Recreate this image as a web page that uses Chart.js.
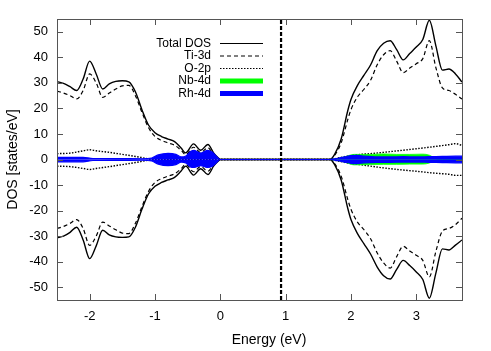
<!DOCTYPE html>
<html>
<head>
<meta charset="utf-8">
<style>
  html, body { margin: 0; padding: 0; background: #fff; }
  #wrap { width: 491px; height: 351px; }
</style>
</head>
<body>
<div id="wrap"><canvas id="c" width="491" height="351"></canvas></div>
<script src="https://cdn.jsdelivr.net/npm/chart.js@4.4.0/dist/chart.umd.min.js"></script>
<script>
// energies (eV) for total DOS and Ti-3d
const bandE = [-2.5, -2.4, -2.3, -2.2, -2.1, -2.0, -1.9, -1.8, -1.7, -1.6, -1.5, -1.4, -1.3, -1.2, -1.1, -1.0,
  -0.9, -0.8, -0.7, -0.6, -0.53, -0.41, -0.3, -0.19, -0.1, -0.03, 0,
  1.68, 1.75, 1.85, 1.95, 2.0, 2.1, 2.2, 2.3, 2.4, 2.5, 2.6, 2.7, 2.8, 2.9, 3.0, 3.1, 3.2, 3.3, 3.4, 3.5, 3.6, 3.7];

const totalUp = [30.5, 29.8, 28.5, 27.0, 31.5, 38.5, 33.5, 27.6, 29.6, 30.6, 30.8, 30.4, 26.5, 19.5, 13.5, 10.5,
  9.0, 8.0, 7.0, 4.5, 2.6, 6.1, 3.6, 5.9, 2.5, 0.6, 0,
  0, 2.0, 8.0, 19.0, 23.5, 29.0, 33.0, 37.0, 42.5, 45.5, 46.5, 43.0, 39.0, 41.5, 44.0, 47.0, 54.5, 44.5, 35.0, 35.4, 33.5, 30.3];
const totalDown = [-30.6, -30.0, -28.5, -26.5, -31.5, -38.8, -33.8, -27.7, -29.5, -30.3, -30.5, -30.3, -26.5, -19.5, -13.5, -10.5,
  -9.0, -8.0, -7.0, -4.5, -2.6, -6.1, -3.6, -5.9, -2.5, -0.6, 0,
  0, -2.0, -8.0, -19.0, -23.5, -29.0, -33.0, -37.0, -42.0, -45.5, -46.8, -43.0, -39.5, -41.5, -44.0, -47.0, -54.3, -44.5, -35.0, -35.4, -33.5, -31.5];

const tiUp = [26.8, 26.0, 25.0, 23.7, 27.0, 33.5, 30.0, 24.3, 26.0, 27.6, 28.8, 29.0, 25.0, 18.5, 12.5, 9.0,
  7.5, 6.5, 5.6, 3.6, 1.9, 4.8, 2.7, 4.6, 1.8, 0.4, 0,
  0, 1.6, 6.5, 15.5, 19.5, 24.5, 27.5, 31.0, 37.0, 41.0, 42.6, 38.5, 34.0, 35.8, 37.5, 39.5, 46.5, 36.0, 28.0, 27.0, 25.5, 23.7];
const tiDown = [-27.0, -26.2, -25.0, -23.5, -27.0, -33.6, -30.0, -24.5, -26.0, -27.5, -28.8, -29.0, -25.0, -18.5, -12.5, -9.0,
  -7.5, -6.5, -5.6, -3.6, -1.9, -4.8, -2.7, -4.6, -1.8, -0.4, 0,
  0, -1.6, -6.5, -15.5, -19.5, -24.5, -27.5, -31.0, -36.5, -40.5, -42.5, -38.0, -34.0, -35.8, -37.5, -39.5, -46.0, -36.0, -28.0, -27.0, -25.5, -23.0];

// O-2p
const oE = [-2.5, -2.3, -2.1, -2.0, -1.9, -1.7, -1.5, -1.3, -1.1, -1.0, 1.68, 1.8, 1.9, 2.0, 2.14, 2.3, 2.5, 2.75, 3.0, 3.26, 3.5, 3.6, 3.7];
const oUp = [2.3, 2.5, 3.4, 3.8, 3.4, 2.8, 2.0, 1.2, 0.3, 0, 0, 0.6, 1.1, 1.5, 2.0, 2.3, 2.8, 3.5, 4.2, 5.0, 5.8, 6.2, 5.5];
const oDown = [-2.6, -2.8, -3.5, -3.9, -3.5, -2.8, -2.0, -1.2, -0.3, 0, 0, -0.6, -1.1, -1.6, -2.0, -2.6, -3.3, -4.0, -4.6, -5.3, -5.8, -6.2, -6.2];

// Nb-4d
const nbE = [1.68, 1.8, 1.9, 2.05, 2.3, 2.5, 2.7, 2.9, 3.1, 3.2, 3.3, 3.4, 3.7];
const nbUp = [0, 0.4, 1.0, 2.0, 2.0, 2.2, 2.0, 2.0, 2.1, 1.7, 0.4, 0, 0];
const nbDown = [0, -0.4, -1.0, -2.1, -2.0, -1.9, -1.9, -1.8, -1.8, -1.4, -0.3, 0, 0];

// Rh-4d
const rhE = [-2.5, -2.1, -1.95, -1.85, -1.5, -1.2, -1.05, -0.95, -0.8, -0.68, -0.6, -0.52, -0.45, -0.4, -0.3, -0.2, -0.12, -0.05, 0,
  1.68, 1.8, 1.9, 2.0, 2.1, 2.2, 2.4, 2.6, 2.8, 3.0, 3.2, 3.4, 3.6, 3.7];
const rhUp = [0.8, 0.8, 0.4, 0.4, 0.35, 0.3, 0.6, 1.8, 2.4, 2.0, 1.0, 1.5, 3.2, 3.6, 2.5, 3.6, 2.8, 1.0, 0,
  0, 0.5, 1.0, 1.5, 1.6, 1.3, 1.0, 1.0, 1.1, 1.0, 1.1, 1.2, 1.3, 1.3];
const rhDown = [-0.9, -0.9, -0.4, -0.4, -0.35, -0.3, -0.6, -1.8, -2.4, -2.0, -1.0, -1.5, -3.0, -3.1, -2.4, -3.1, -2.6, -1.0, 0,
  0, -0.5, -1.0, -1.5, -1.6, -1.3, -1.1, -1.1, -1.0, -1.0, -1.1, -1.2, -1.3, -1.3];

const fermiE = 0.93;
const xTicks = [-2, -1, 0, 1, 2, 3];
const yTicks = [-50, -40, -30, -20, -10, 0, 10, 20, 30, 40, 50];
const xMin = -2.5, xMax = 3.7, yMin = -55, yMax = 55;

const FONT = '"Liberation Sans", Arial, Helvetica, sans-serif';

function pts(xs, ys) {
  return xs.map((x, i) => ({ x: x, y: ys[i] }));
}

function curve(label, xs, ys, extra) {
  return Object.assign({
    label: label,
    data: pts(xs, ys),
    pointRadius: 0,
    borderColor: '#000',
    borderWidth: 1.4,
    fill: false,
    cubicInterpolationMode: 'monotone'
  }, extra);
}

const datasets = [
  curve('Total DOS', bandE, totalUp, { order: 5, inLegend: true }),
  curve('Total DOS', bandE, totalDown, { order: 5 }),
  curve('Ti-3d', bandE, tiUp, { order: 4, borderWidth: 1.2, borderDash: [4, 3], inLegend: true }),
  curve('Ti-3d', bandE, tiDown, { order: 4, borderWidth: 1.2, borderDash: [4, 3] }),
  curve('O-2p', oE, oUp, { order: 3, borderWidth: 1.4, borderDash: [1.5, 1.5], inLegend: true }),
  curve('O-2p', oE, oDown, { order: 3, borderWidth: 1.4, borderDash: [1.5, 1.5] }),
  curve('Nb-4d', nbE, nbUp, { order: 2, borderColor: '#00ff00', backgroundColor: '#00ff00', borderWidth: 0.8, fill: 'origin', inLegend: true, box: true }),
  curve('Nb-4d', nbE, nbDown, { order: 2, borderColor: '#00ff00', backgroundColor: '#00ff00', borderWidth: 0.8, fill: 'origin' }),
  curve('Rh-4d', rhE, rhUp, { order: 1, borderColor: '#0000ff', backgroundColor: '#0000ff', borderWidth: 1.2, fill: 'origin', inLegend: true, box: true }),
  curve('Rh-4d', rhE, rhDown, { order: 1, borderColor: '#0000ff', backgroundColor: '#0000ff', borderWidth: 1.2, fill: 'origin' }),
  curve('Fermi', [fermiE, fermiE], [yMin, yMax], { order: 0, borderWidth: 2.2, borderDash: [4, 2], cubicInterpolationMode: 'default' })
];

// frame, inward ticks, key and x title (gnuplot style)
const gnuplotLook = {
  id: 'gnuplotLook',
  afterDatasetsDraw(chart) {
    const ctx = chart.ctx;
    const a = chart.chartArea;
    const xs = chart.scales.x, ys = chart.scales.y;
    const tl = 6;
    ctx.save();
    ctx.strokeStyle = '#555';
    ctx.lineWidth = 1;
    ctx.beginPath();
    xTicks.forEach(v => {
      const px = Math.round(xs.getPixelForValue(v)) + 0.5;
      ctx.moveTo(px, a.bottom); ctx.lineTo(px, a.bottom - tl);
      ctx.moveTo(px, a.top); ctx.lineTo(px, a.top + tl);
    });
    yTicks.forEach(v => {
      const py = Math.round(ys.getPixelForValue(v)) + 0.5;
      ctx.moveTo(a.left, py); ctx.lineTo(a.left + tl, py);
      ctx.moveTo(a.right, py); ctx.lineTo(a.right - tl, py);
    });
    ctx.stroke();
    ctx.strokeRect(Math.round(a.left) + 0.5, Math.round(a.top) + 0.5, Math.round(a.right - a.left), Math.round(a.bottom - a.top));

    // key
    let ky = 43.5;
    ctx.font = '12px ' + FONT;
    ctx.textAlign = 'right';
    ctx.textBaseline = 'middle';
    chart.data.datasets.filter(d => d.inLegend).forEach(d => {
      ctx.fillStyle = '#000';
      ctx.fillText(d.label, 211, ky);
      if (d.box) {
        ctx.fillStyle = d.backgroundColor;
        ctx.fillRect(220, ky - 2.5, 43, 5);
      } else {
        ctx.strokeStyle = '#000';
        ctx.lineWidth = 1;
        ctx.setLineDash(d.borderDash || []);
        ctx.beginPath();
        ctx.moveTo(220, ky); ctx.lineTo(263, ky);
        ctx.stroke();
        ctx.setLineDash([]);
      }
      ky += 12.5;
    });

    ctx.fillStyle = '#000';
    ctx.font = '14px ' + FONT;
    ctx.textAlign = 'center';
    ctx.fillText('Energy (eV)', 269, 340);
    ctx.restore();
  }
};

new Chart(document.getElementById('c').getContext('2d'), {
  type: 'line',
  data: { datasets: datasets },
  options: {
    responsive: false,
    animation: false,
    layout: { padding: { top: 19, right: 29, left: 0, bottom: 0 } },
    plugins: { legend: { display: false }, tooltip: { enabled: false } },
    scales: {
      x: {
        type: 'linear',
        min: xMin,
        max: xMax,
        afterBuildTicks: s => { s.ticks = xTicks.map(v => ({ value: v })); },
        afterFit: s => { s.height = 51; },
        grid: { display: false, drawTicks: false },
        border: { display: false },
        ticks: { padding: 9, color: '#000', font: { family: FONT, size: 13 } }
      },
      y: {
        type: 'linear',
        min: yMin,
        max: yMax,
        afterBuildTicks: s => { s.ticks = yTicks.map(v => ({ value: v })); },
        afterFit: s => { s.width = 57; },
        grid: { display: false, drawTicks: false },
        border: { display: false },
        ticks: { padding: 9, color: '#000', font: { family: FONT, size: 13 } },
        title: {
          display: true,
          text: 'DOS [states/eV]',
          color: '#000',
          font: { family: FONT, size: 14 },
          padding: { top: 5, bottom: 0 }
        }
      }
    }
  },
  plugins: [gnuplotLook]
});
</script>
</body>
</html>
